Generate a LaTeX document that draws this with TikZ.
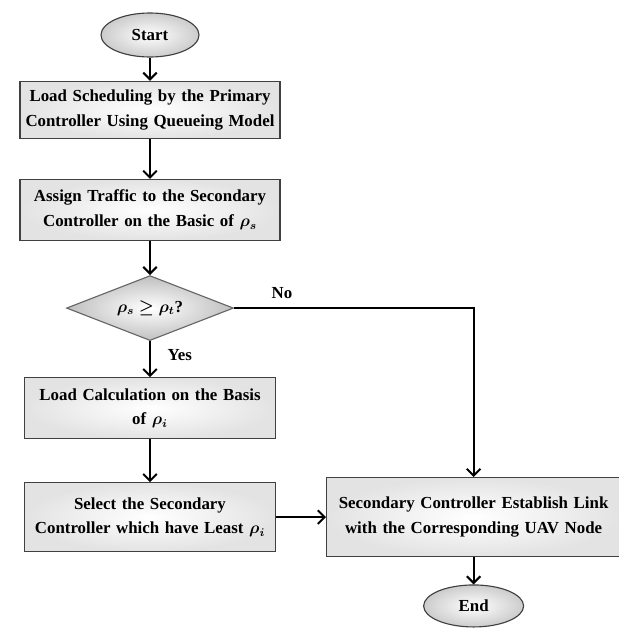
\documentclass[tikz,border=0pt]{standalone}
\usepackage{amsmath}
\usepackage{amssymb}
\usepackage{bm}
\usepackage{fontspec}
\setmainfont{Liberation Serif}
\usepackage{tikz}
\usetikzlibrary{positioning,shapes.geometric,arrows.meta}

\begin{document}
\begin{tikzpicture}[
        node distance=1cm and 1.25cm,
        every node/.style={font=\bfseries\fontsize{12}{17.5}\selectfont},
        term/.style={
            ellipse,
            draw=black!75,
            thick,
            inner color=white,
            outer color=gray!40,
            minimum width=2.45cm,
            minimum height=1.1cm,
            inner sep=0pt
        },
        proc/.style={
            rectangle,
            draw=black!75,
            thick,
            align=center,
            inner color=white,
            outer color=gray!22,
            text width=6.4cm,
            minimum width=6.5cm,
            minimum height=1.425cm,
            inner sep=1pt
        },
        decide/.style={
            diamond,
            draw=black!60,
            thick,
            inner color=white,
            outer color=gray!50,
            aspect=2.57,
            minimum width=4.175cm,
            minimum height=1.625cm,
            inner sep=0pt
        },
        arrow/.style={
            -{Straight Barb[length=1.7mm,width=3.4mm]},
            line width=1.4pt
        }
    ]

    \useasboundingbox (-3.75,0.875) rectangle (11.725,-14.825);

    % main flow
    \node[term] (start) {Start};

    \node[proc, below=0.58cm of start] (sched)
    {Load Scheduling by the Primary\\ Controller Using Queueing Model};

    \node[proc, below=1.0cm of sched, minimum height=1.525cm] (assign)
    {Assign Traffic to the Secondary\\ Controller on the Basic of $\bm{\rho_s}$};

    \node[decide, below=0.85cm of assign] (check)
    {$\bm{\rho_s \geq \rho_t}$?};

    \node[proc, below=0.9cm of check, minimum width=6.275cm, text width=6.1cm, minimum height=1.525cm] (calc)
    {Load Calculation on the Basis\\ of $\bm{\rho_i}$};

    \node[proc, below=1.07cm of calc, minimum width=6.275cm, text width=6.1cm, minimum height=1.725cm] (select)
    {Select the Secondary\\ Controller which have Least $\bm{\rho_i}$};

    % right side
    \node[proc, right=1.25cm of select, minimum width=7.35cm, text width=7.2cm, minimum height=1.975cm] (link)
    {Secondary Controller Establish Link\\ with the Corresponding UAV Node};

    \node[term, below=0.68cm of link, minimum width=2.5cm, minimum height=1.05cm] (end) {End};

    % arrows
    \draw[arrow] (start) -- (sched);
    \draw[arrow] (sched) -- (assign);
    \draw[arrow] (assign) -- (check);
    \draw[arrow] (check) -- node[right=0.3cm, pos=0.4] {Yes} (calc);
    \draw[arrow] (calc) -- (select);
    \draw[arrow] (select) -- (link);
    \draw[arrow] (check.east) -- node[above=0.1cm, pos=0.2] {No} (check.east -| link.north) -- (link.north);
    \draw[arrow] (link) -- (end);

\end{tikzpicture}
\end{document}
